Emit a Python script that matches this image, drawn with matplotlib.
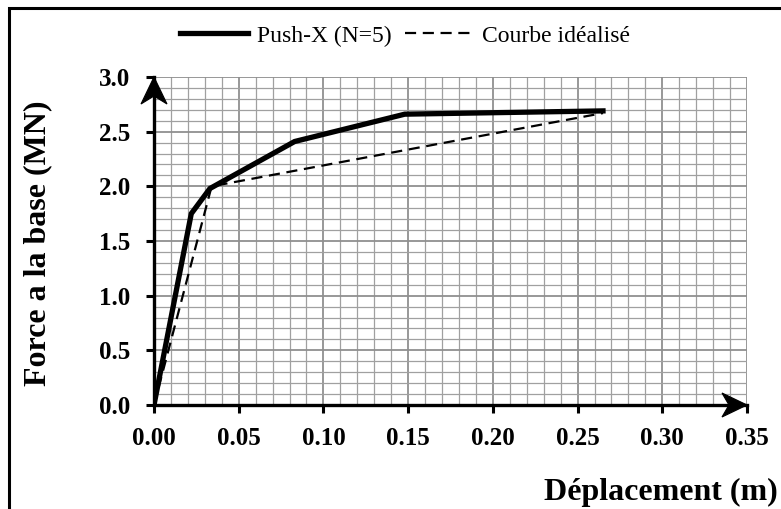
import matplotlib
matplotlib.use("Agg")
import matplotlib.pyplot as plt
from matplotlib.patches import Polygon, Rectangle
from matplotlib.transforms import ScaledTranslation
from matplotlib.ticker import MultipleLocator

plt.rcParams['font.family'] = ['Liberation Serif', 'DejaVu Serif']

# Pushover curve (displacement in m, base shear in MN)
push_disp = [0.0, 0.022, 0.033, 0.083, 0.148, 0.265]
push_force = [0.0, 1.75, 1.98, 2.41, 2.66, 2.69]

# Idealised bilinear curve
ideal_disp = [0.0, 0.034, 0.265]
ideal_force = [0.0, 2.00, 2.67]

x_ticks = [0.00, 0.05, 0.10, 0.15, 0.20, 0.25, 0.30, 0.35]
y_ticks = [0.0, 0.5, 1.0, 1.5, 2.0, 2.5, 3.0]

W, H = 781, 509
fig = plt.figure(figsize=(W / 100, H / 100), dpi=100)
ax = fig.add_axes([154 / W, 1 - 405 / H, 593 / W, 328 / H])

ax.set_xlim(0, 0.35)
ax.set_ylim(0, 3.0)
ax.xaxis.set_minor_locator(MultipleLocator(0.01))
ax.yaxis.set_minor_locator(MultipleLocator(0.1))
ax.set_xticks(x_ticks)
ax.set_yticks(y_ticks)
ax.set_xticklabels([f"{v:.2f}" for v in x_ticks], fontsize=18, fontweight='bold')
ax.set_yticklabels([f"{v:.1f}" for v in y_ticks], fontsize=18, fontweight='bold')

ax.grid(which='minor', color='#a0a0a0', linewidth=0.9)
ax.grid(which='major', color='#909090', linewidth=1.3)
ax.set_axisbelow(True)
ax.tick_params(which='minor', length=0)
ax.tick_params(which='major', direction='out', length=6, width=2.2, color='black')
ax.tick_params(axis='x', pad=10)
ax.tick_params(axis='y', pad=11)

for s in ('top', 'right'):
    ax.spines[s].set_visible(False)
for s in ('left', 'bottom'):
    ax.spines[s].set_linewidth(2.4)
    ax.spines[s].set_zorder(5)

ax.plot(push_disp, push_force, color='black', linewidth=3.8,
        solid_joinstyle='miter', label='Push-X (N=5)', zorder=4)
ax.plot(ideal_disp, ideal_force, color='black', linewidth=1.6,
        dashes=(5, 3), label='Courbe idéalisé', zorder=3)


def stealth(ax, x, y, direction, length=26, half=13, notch=8):
    """Draw a stealth-style arrowhead (sizes in pixels) at axes coords (x, y)."""
    s = 1 / 100.0
    if direction == 'up':
        verts = [(0, 0), (-half * s, -length * s), (0, -(length - notch) * s), (half * s, -length * s)]
    else:
        verts = [(0, 0), (-length * s, half * s), (-(length - notch) * s, 0), (-length * s, -half * s)]
    tr = fig.dpi_scale_trans + ScaledTranslation(x, y, ax.transAxes)
    ax.add_patch(Polygon(verts, closed=True, facecolor='black', edgecolor='black',
                         linewidth=0.8, transform=tr, clip_on=False, zorder=6))


stealth(ax, 0.0, 1.0, 'up', length=27, half=13, notch=8)
stealth(ax, 1.0, 0.0, 'right', length=25, half=12, notch=7)

fig.text(38 / W, 1 - 243 / H, 'Force a la base (MN)', fontsize=23, fontweight='bold',
         rotation=90, ha='center', va='center')
fig.text(778 / W, 1 - 500 / H, 'Déplacement (m)', fontsize=23, fontweight='bold',
         ha='right', va='baseline')

fig.legend(loc='center', bbox_to_anchor=(405 / W, 1 - 36 / H), ncol=2, frameon=False,
           fontsize=17, handlelength=2.9, handletextpad=0.38, columnspacing=0.55)

# frame around the figure (left and top edges visible)
fig.patches.append(Rectangle((9 / W, -0.1), 1.2, (1 - 8 / H) + 0.1, transform=fig.transFigure,
                             fill=False, edgecolor='black', linewidth=2.2))

fig.savefig('out.png', dpi=100)
